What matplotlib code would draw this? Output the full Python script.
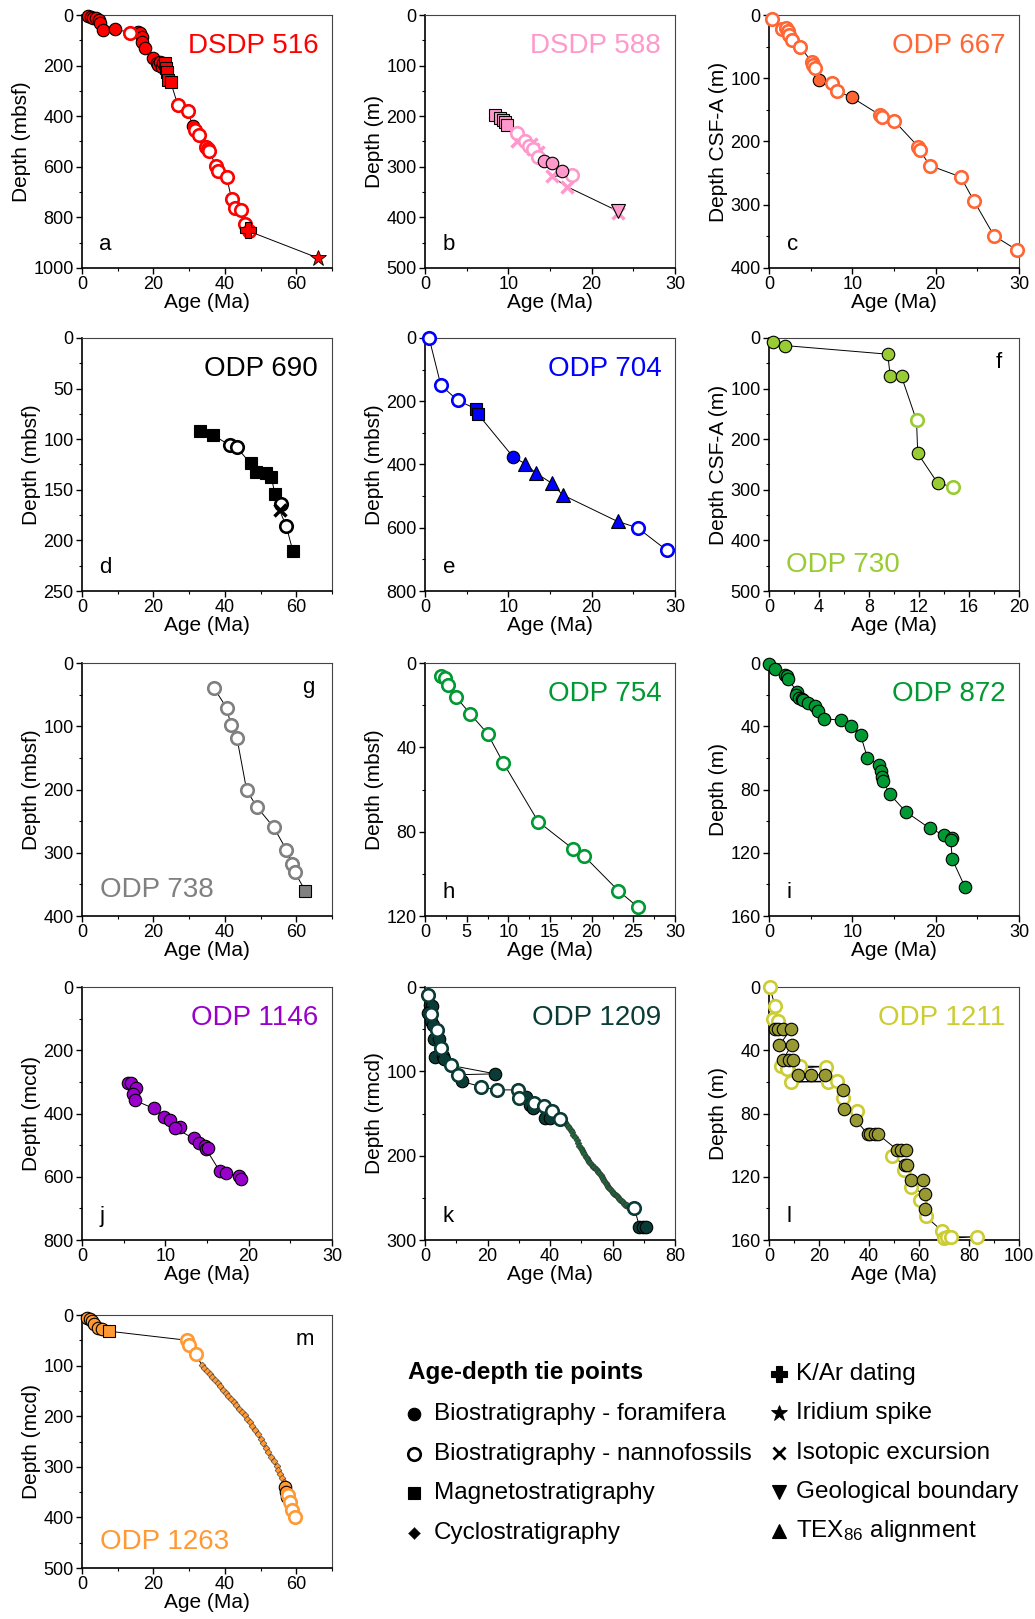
import matplotlib
matplotlib.use("Agg")
import matplotlib.pyplot as plt
from matplotlib.lines import Line2D

plt.rcParams['font.family'] = ['Liberation Sans', 'DejaVu Sans']
plt.rcParams['mathtext.default'] = 'regular'

W, H = 1035, 1619

# ---------------- data (age in Ma, depth) ----------------
# a: DSDP 516
a_foram_age = [1.8, 2.5, 3.2, 4.0, 4.7, 5.1, 6.0, 9.3, 15.8, 16.3, 16.7, 16.9, 17.7, 20.0, 20.9, 21.4, 21.9, 22.3, 22.8, 31.0]
a_foram_depth = [5, 8, 10, 13, 20, 33, 59, 57, 66, 72, 86, 105, 132, 171, 191, 197, 184, 204, 191, 438]
a_nanno_age = [13.5, 26.8, 29.6, 31.5, 32.7, 34.7, 35.2, 35.6, 37.5, 38.1, 40.5, 41.9, 42.8, 44.4, 45.6, 46.8]
a_nanno_depth = [72, 355, 380, 455, 474, 520, 530, 539, 595, 616, 641, 728, 763, 770, 825, 855]
a_magneto_age = [23.1, 23.4, 23.7, 24.2, 24.8]
a_magneto_depth = [191, 211, 224, 257, 263]
a_kar_age, a_kar_depth = [46.5], [849]
a_ir_age, a_ir_depth = [66.0], [960]

# b: DSDP 588
b_magneto_age = [8.4, 9.0, 9.3, 9.6, 9.8]
b_magneto_depth = [197, 203, 207, 212, 217]
b_nanno_age = [11.0, 12.0, 12.5, 13.0, 13.6, 17.6]
b_nanno_depth = [233, 250, 258, 265, 280, 316]
b_iso_age = [11.0, 12.7, 13.0, 13.5, 15.2, 17.0, 23.2]
b_iso_depth = [250, 255, 265, 270, 319, 339, 391]
b_foram_age = [14.3, 15.2, 16.4]
b_foram_depth = [288, 293, 309]
b_geo_age, b_geo_depth = [23.2], [388]

# c: ODP 667
c_nanno_age = [0.4, 1.5, 2.0, 2.3, 2.4, 2.8, 3.7, 5.2, 5.3, 5.5, 7.5, 8.1, 13.3, 13.6, 15.0, 17.9, 18.1, 19.3, 23.0, 24.6, 27.0, 29.8]
c_nanno_depth = [7, 22, 20, 26, 32, 40, 50, 75, 79, 84, 108, 120, 158, 162, 167, 208, 214, 238, 256, 294, 349, 372]
c_foram_age = [6.0, 9.9]
c_foram_depth = [102, 130]

# d: ODP 690
d_magneto_age = [33.0, 36.7, 47.2, 48.8, 51.6, 53.0, 54.0, 59.0]
d_magneto_depth = [92, 96, 124, 132, 133, 137, 154, 210]
d_nanno_age = [41.4, 43.3, 55.8, 57.2]
d_nanno_depth = [106, 108, 164, 186]
d_iso_age, d_iso_depth = [55.3], [170]

# e: ODP 704
e_nanno_age = [0.5, 1.9, 3.9, 25.5, 29.0]
e_nanno_depth = [1, 149, 197, 600, 671]
e_magneto_age = [6.1, 6.3]
e_magneto_depth = [224, 239]
e_foram_age, e_foram_depth = [10.6], [377]
e_tex_age = [12.0, 13.3, 15.2, 16.5, 23.1]
e_tex_depth = [397, 427, 459, 496, 580]

# f: ODP 730
f_foram_age = [0.3, 1.3, 9.5, 9.7, 10.6, 11.9, 13.5]
f_foram_depth = [8, 15, 32, 76, 76, 228, 287]
f_nanno_age = [11.8, 14.7]
f_nanno_depth = [163, 294]

# g: ODP 738
g_nanno_age = [37.0, 40.5, 41.7, 43.4, 46.1, 48.9, 53.7, 57.2, 58.8, 59.5]
g_nanno_depth = [40, 71, 98, 119, 201, 227, 260, 295, 317, 330]
g_magneto_age, g_magneto_depth = [62.5], [360]

# h: ODP 754
h_nanno_age = [1.9, 2.4, 2.8, 3.7, 5.4, 7.5, 9.4, 13.6, 17.7, 19.1, 23.2, 25.5]
h_nanno_depth = [6.2, 7.0, 10.3, 16.0, 24.0, 33.5, 47.4, 75.3, 88.0, 91.6, 108.0, 115.6]

# i: ODP 872
i_foram_age = [0.0, 0.7, 1.9, 2.1, 2.3, 3.4, 3.2, 3.6, 3.9, 4.1, 4.7, 5.5, 5.9, 6.6, 8.6, 9.8, 11.0,
               11.8, 13.2, 13.4, 13.6, 13.7, 14.5, 16.4, 19.3, 21.0, 21.9, 21.8, 22.0, 23.5]
i_foram_depth = [0.4, 3.6, 7.4, 8.4, 10.3, 18.3, 20.0, 21.9, 23.0, 23.6, 25.3, 27.4, 30.5, 35.2, 36.2, 40.0, 45.7,
                 59.8, 64.6, 68.4, 72.0, 74.7, 83.0, 94.0, 104.6, 108.8, 110.5, 112.0, 124.2, 141.5]

# j: ODP 1146
j_foram_age = [5.5, 5.9, 6.5, 6.1, 6.3, 8.6, 9.8, 10.5, 11.8, 11.2, 13.4, 14.0, 14.7, 14.9, 15.1, 16.5, 17.3, 18.8, 19.1]
j_foram_depth = [303, 303, 319, 339, 358, 384, 410, 421, 444, 447, 479, 493, 503, 513, 510, 581, 587, 598, 607]

# k: ODP 1209
k_foram_age = [1.6, 2.3, 1.1, 1.9, 2.5, 3.0, 4.6, 3.2, 5.6, 6.0, 11.7, 22.5, 32.4, 33.5, 34.6, 38.3, 40.0, 68.6, 69.6, 70.7]
k_foram_depth = [21, 22, 31, 40, 45, 62, 62, 83, 82, 85, 112, 103, 131, 140, 144, 155, 155, 284, 284, 284]
k_nanno_age = [0.9, 1.9, 3.9, 5.1, 8.3, 10.6, 17.8, 22.9, 29.8, 30.0, 34.8, 38.1, 40.6, 43.1, 67.0]
k_nanno_depth = [9, 32, 51, 72, 93, 104, 118, 122, 122, 132, 137, 141, 147, 156, 262]
k_cyclo_age = [44.2, 44.7, 45.2, 45.7, 46.2, 46.6, 47.1, 47.5, 48.0, 48.5, 48.9, 49.3, 49.8, 50.2, 50.6, 51.0,
               51.4, 51.8, 52.1, 52.5, 52.9, 53.3, 53.8, 54.2, 54.6, 55.0, 55.3, 55.7, 56.2, 56.6,
               57.0, 57.4, 57.8, 58.2, 58.5, 58.9, 59.3, 59.7, 60.1, 60.5, 61.0, 61.4, 61.7, 62.1,
               62.5, 62.9, 63.3, 63.7, 64.1, 64.5, 64.9, 65.3, 65.7]
k_cyclo_depth = [158, 160, 162, 165, 167, 170, 172, 175, 178, 182, 185, 188, 191, 193, 196, 198,
                 201, 203, 205, 207, 209, 211, 213, 214, 216, 217, 219, 221, 223, 225,
                 228, 230, 233, 235, 237, 238, 240, 242, 244, 245, 247, 248, 249, 251,
                 252, 254, 255, 257, 258, 259, 261, 261, 262]

# l: ODP 1211
l_nanno_age = [0.3, 2.4, 1.5, 3.5, 4.7, 7.0, 12.4, 8.8, 22.8, 23.7, 27.0, 29.7, 35.0, 49.0, 54.0, 56.8,
               60.4, 62.7, 69.0, 70.0, 71.0, 72.8, 83.0]
l_nanno_depth = [0, 12, 20.4, 21.5, 50, 51.6, 50, 60, 50.3, 60, 59.4, 70, 78.7, 107, 115.8, 126.7,
                 135, 145, 154, 159, 158, 158, 158]
l_foram_age = [2.4, 3.7, 5.7, 8.8, 4.1, 9.0, 5.5, 8.1, 9.7, 11.7, 16.7, 22.4, 29.7, 30.1, 34.7,
               39.5, 40.4, 42.4, 43.5, 51.3, 52.7, 54.8, 54.4, 55.0, 56.8, 61.7, 62.4, 62.4]
l_foram_depth = [26.7, 26.7, 26.7, 26.7, 36.8, 36.8, 46.3, 46.3, 46.3, 55.6, 55.6, 55.6, 65.3, 77.3, 84.2,
                 93, 93, 93, 93, 103, 103, 103, 112.4, 112.4, 121.9, 121.9, 131, 140.4]

# m: ODP 1263
m_foram_age = [1.5, 2.2, 2.8, 3.4, 4.5, 5.5, 56.8, 57.2, 57.5]
m_foram_depth = [5, 8, 12, 18, 25, 28, 340, 350, 360]
m_magneto_age, m_magneto_depth = [7.5], [32]
m_nanno_age = [29.5, 30.0, 31.8, 57.8, 58.3, 58.8, 59.6]
m_nanno_depth = [50, 60, 78, 355, 370, 385, 400]
m_cyclo_age = [33.5, 34.2, 35.0, 35.7, 36.5, 37.2, 38.0, 38.7, 39.5, 40.2, 41.0, 41.7, 42.5, 43.2, 44.0,
               44.7, 45.5, 46.2, 47.0, 47.7, 48.5, 49.2, 50.0, 50.7, 51.5, 52.2, 53.0, 53.7, 54.5,
               55.0, 55.5, 56.0, 56.5]
m_cyclo_depth = [98, 104, 110, 116, 122, 128, 135, 141, 148, 154, 160, 166, 172, 178, 185,
                 191, 198, 205, 212, 220, 228, 236, 245, 253, 262, 271, 280, 289, 298,
                 306, 315, 322, 330]

# ---------------- styling ----------------
def style(kind, c):
    if kind == 'foram':
        return dict(marker='o', ms=9, mfc=c, mec='black', mew=0.8)
    if kind == 'nanno':
        return dict(marker='o', ms=9, mfc='white', mec=c, mew=1.9)
    if kind == 'magneto':
        return dict(marker='s', ms=8, mfc=c, mec='black', mew=0.8)
    if kind == 'cyclo':
        return dict(marker='D', ms=3.5, mfc=c, mec='#333333', mew=0.4)
    if kind == 'kar':
        return dict(marker='P', ms=11, mfc=c, mec='black', mew=0.8)
    if kind == 'ir':
        return dict(marker='*', ms=12, mfc=c, mec='black', mew=0.6)
    if kind == 'iso':
        return dict(marker='x', ms=9, mec=c, mew=2.5)
    if kind == 'geo':
        return dict(marker='v', ms=10, mfc=c, mec='black', mew=0.8)
    if kind == 'tex':
        return dict(marker='^', ms=10, mfc=c, mec='black', mew=0.8)


panels = [
    dict(letter='a', site='DSDP 516', color='#FF0000', ylabel='Depth (mbsf)', xlim=70, xt=20, ylim=1000, yt=200,
         groups=[(a_foram_age, a_foram_depth, 'foram'), (a_magneto_age, a_magneto_depth, 'magneto'),
                 (a_nanno_age, a_nanno_depth, 'nanno'), (a_kar_age, a_kar_depth, 'kar'), (a_ir_age, a_ir_depth, 'ir')]),
    dict(letter='b', site='DSDP 588', color='#FF99CC', ylabel='Depth (m)', xlim=30, xt=10, ylim=500, yt=100,
         groups=[(b_magneto_age, b_magneto_depth, 'magneto'), (b_iso_age, b_iso_depth, 'iso'),
                 (b_nanno_age, b_nanno_depth, 'nanno'), (b_foram_age, b_foram_depth, 'foram'),
                 (b_geo_age, b_geo_depth, 'geo')]),
    dict(letter='c', site='ODP 667', color='#FF6633', ylabel='Depth CSF-A (m)', xlim=30, xt=10, ylim=400, yt=100,
         groups=[(c_foram_age, c_foram_depth, 'foram'), (c_nanno_age, c_nanno_depth, 'nanno')]),
    dict(letter='d', site='ODP 690', color='black', ylabel='Depth (mbsf)', xlim=70, xt=20, ylim=250, yt=50,
         groups=[(d_magneto_age, d_magneto_depth, 'magneto'), (d_nanno_age, d_nanno_depth, 'nanno'),
                 (d_iso_age, d_iso_depth, 'iso')]),
    dict(letter='e', site='ODP 704', color='#0000FF', ylabel='Depth (mbsf)', xlim=30, xt=10, ylim=800, yt=200,
         groups=[(e_nanno_age, e_nanno_depth, 'nanno'), (e_magneto_age, e_magneto_depth, 'magneto'),
                 (e_foram_age, e_foram_depth, 'foram'), (e_tex_age, e_tex_depth, 'tex')]),
    dict(letter='f', site='ODP 730', color='#99CC33', ylabel='Depth CSF-A (m)', xlim=20, xt=4, ylim=500, yt=100,
         flip=True,
         groups=[(f_foram_age, f_foram_depth, 'foram'), (f_nanno_age, f_nanno_depth, 'nanno')]),
    dict(letter='g', site='ODP 738', color='#808080', ylabel='Depth (mbsf)', xlim=70, xt=20, ylim=400, yt=100,
         flip=True,
         groups=[(g_nanno_age, g_nanno_depth, 'nanno'), (g_magneto_age, g_magneto_depth, 'magneto')]),
    dict(letter='h', site='ODP 754', color='#009933', ylabel='Depth (mbsf)', xlim=30, xt=5, ylim=120, yt=40,
         groups=[(h_nanno_age, h_nanno_depth, 'nanno')]),
    dict(letter='i', site='ODP 872', color='#009933', ylabel='Depth (m)', xlim=30, xt=10, ylim=160, yt=40,
         groups=[(i_foram_age, i_foram_depth, 'foram')]),
    dict(letter='j', site='ODP 1146', color='#9900CC', ylabel='Depth (mcd)', xlim=30, xt=10, ylim=800, yt=200,
         groups=[(j_foram_age, j_foram_depth, 'foram')]),
    dict(letter='k', site='ODP 1209', color='#0B3B36', ylabel='Depth (rmcd)', xlim=80, xt=20, ylim=300, yt=100,
         groups=[(k_foram_age, k_foram_depth, 'foram'), (k_cyclo_age, k_cyclo_depth, 'cyclo', '#1E6B3C'),
                 (k_nanno_age, k_nanno_depth, 'nanno')]),
    dict(letter='l', site='ODP 1211', color='#CCCC33', ylabel='Depth (m)', xlim=100, xt=20, ylim=160, yt=40,
         groups=[(l_nanno_age, l_nanno_depth, 'nanno'), (l_foram_age, l_foram_depth, 'foram', '#999933')]),
    dict(letter='m', site='ODP 1263', color='#FF9933', ylabel='Depth (mcd)', xlim=70, xt=20, ylim=500, yt=100,
         flip=True,
         groups=[(m_cyclo_age, m_cyclo_depth, 'cyclo'), (m_foram_age, m_foram_depth, 'foram'),
                 (m_magneto_age, m_magneto_depth, 'magneto'), (m_nanno_age, m_nanno_depth, 'nanno')]),
]

col_left = [82, 425, 769]
row_top = [15, 338, 663, 987, 1315]
aw, ah = 250, 253

fig = plt.figure(figsize=(W / 100, H / 100), dpi=100)

for n, p in enumerate(panels):
    r, c = divmod(n, 3)
    ax = fig.add_axes([col_left[c] / W, 1 - (row_top[r] + ah) / H, aw / W, ah / H])

    # age-model line through all tie points, ordered by depth
    pts = []
    for g in p['groups']:
        pts += list(zip(g[1], g[0]))
    pts.sort()
    ax.plot([q[1] for q in pts], [q[0] for q in pts], color='black', lw=0.7, zorder=2)

    for g in p['groups']:
        col = g[3] if len(g) > 3 else p['color']
        ax.plot(g[0], g[1], ls='none', zorder=3, clip_on=False, **style(g[2], col))

    ax.set_xlim(0, p['xlim'])
    ax.set_ylim(p['ylim'], 0)
    ax.set_xticks(range(0, p['xlim'] + 1, p['xt']))
    ax.set_xticks([v + p['xt'] / 2 for v in range(0, p['xlim'], p['xt'])], minor=True)
    ax.set_yticks(range(0, p['ylim'] + 1, p['yt']))
    ax.set_yticks([v + p['yt'] / 2 for v in range(0, p['ylim'], p['yt'])], minor=True)
    ax.tick_params(which='major', direction='out', length=4, width=1, labelsize=13, pad=2)
    ax.tick_params(which='minor', direction='out', length=2.5, width=0.8)
    for s in ['left', 'bottom']:
        ax.spines[s].set_linewidth(1.2)
    for s in ['top', 'right']:
        ax.spines[s].set_linewidth(0.8)
        ax.spines[s].set_color('#444444')
    ax.set_xlabel('Age (Ma)', fontsize=15, labelpad=0)
    ax.set_ylabel(p['ylabel'], fontsize=15, labelpad=2)

    if p.get('flip'):
        ax.text(0.93, 0.88, p['letter'], transform=ax.transAxes, fontsize=16, ha='right', va='baseline')
        ax.text(0.07, 0.075, p['site'], transform=ax.transAxes, fontsize=20, color=p['color'],
                ha='left', va='baseline')
    else:
        ax.text(0.07, 0.07, p['letter'], transform=ax.transAxes, fontsize=16, ha='left', va='baseline')
        ax.text(0.945, 0.85, p['site'], transform=ax.transAxes, fontsize=20, color=p['color'],
                ha='right', va='baseline')

# ---------------- legend ----------------
leg_left = ['foram', 'nanno', 'magneto', 'cyclo']
leg_left_txt = ['Biostratigraphy - foramifera', 'Biostratigraphy - nannofossils',
                'Magnetostratigraphy', 'Cyclostratigraphy']
leg_right = ['kar', 'ir', 'iso', 'geo', 'tex']
leg_right_txt = ['K/Ar dating', 'Iridium spike', 'Isotopic excursion', 'Geological boundary',
                 'TEX$_{86}$ alignment']

fig.text(408 / W, 1 - 1372 / H, 'Age-depth tie points', fontsize=17.5, fontweight='bold', va='center')
for k, (kind, txt) in enumerate(zip(leg_left, leg_left_txt)):
    y = 1 - (1414 + k * 39.7) / H
    st = style(kind, 'black')
    if kind == 'cyclo':
        st['ms'] = 6
    fig.add_artist(Line2D([414 / W], [y], transform=fig.transFigure, ls='none', **st))
    fig.text(434 / W, y, txt, fontsize=17.5, va='center')
for k, (kind, txt) in enumerate(zip(leg_right, leg_right_txt)):
    y = 1 - (1374 + k * 39.3) / H
    st = style(kind, 'black')
    if kind == 'iso':
        st['mew'] = 2
        st['ms'] = 9
    fig.add_artist(Line2D([779 / W], [y], transform=fig.transFigure, ls='none', **st))
    fig.text(796 / W, y, txt, fontsize=17.5, va='center')

fig.savefig('out.png', dpi=100)
